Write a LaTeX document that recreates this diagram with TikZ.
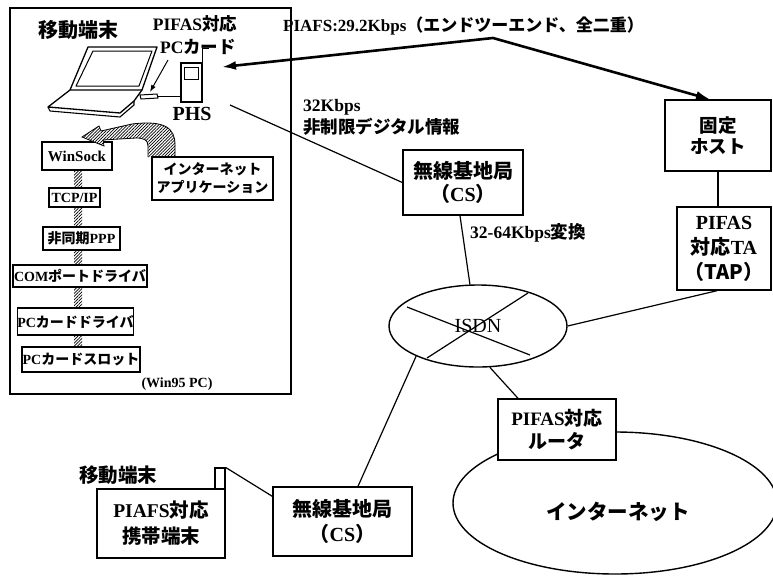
\documentclass[tikz,border=0pt]{standalone}
\usepackage{fontspec}
\setmainfont{Liberation Serif}
\newfontfamily\jpfont{Noto Sans CJK JP}
\usetikzlibrary{shapes.geometric,arrows.meta,patterns.meta}
\newcommand\J[1]{{\jpfont #1}}
\newcommand\sz[2]{\fontsize{#1}{#2}\selectfont}

\begin{document}
\begin{tikzpicture}[x=1pt,y=-1pt,
  box/.style={draw,line width=1.4pt,fill=white,inner sep=0pt,align=center,font=\bfseries},
  stackbox/.style={box,line width=1.3pt,font=\bfseries\sz{14}{16}},
  hatchfill/.style={pattern={Lines[angle=45,distance=2.2pt,line width=0.7pt]}},
  link/.style={line width=1.2pt},
  lbl/.style={inner sep=0pt,font=\bfseries},
  bigarrow/.style={line width=2.6pt,{Latex[length=14pt,width=9pt]}-{Latex[length=14pt,width=9pt]}}
]
\useasboundingbox (0,0) rectangle (773,576);
\fill[white] (0,0) rectangle (773,576);

% ---------- mobile terminal (notebook PC + PHS) ----------
\node[draw,line width=1.2pt,minimum width=281,minimum height=386,inner sep=0] (mt) at (150.5,201) {};
\node[lbl,font=\bfseries\sz{20}{22}] (mtlabel) at (78,30) {\J{移動端末}};
\node[lbl,font=\bfseries\sz{17.5}{20}] (pifas) at (195,24) {PIFAS\J{対応}};
\node[lbl,font=\bfseries\sz{17.5}{20}] (pclabel) at (198,47) {PC\J{カード}};
\node[lbl,font=\bfseries\sz{20}{22}] (phslabel) at (192,114) {PHS};

% notebook
\draw[line width=1.3pt,line join=round] (88,47) -- (157,47) -- (142,90) -- (70,90) -- cycle;
\draw[line width=1pt,line join=round] (93,51) -- (152,51) -- (139,86) -- (76,86) -- cycle;
\draw[line width=1.3pt,line join=round] (70,90) -- (48,107) -- (120,113) -- (134,101) -- (142,90);
\draw[line width=1.1pt,line join=round] (48,107) -- (50,111) -- (120,117) -- (134,105) -- (134,101);
% PC card in the slot
\draw[line width=1pt,fill=white] (140,95) -- (157,94) -- (158,98) -- (141,99) -- cycle;
\coordinate (card) at (150,92);
\coordinate (cardR) at (158,96);

% PHS handset
\node[draw,line width=1.2pt,minimum width=21,minimum height=39,inner sep=0] (phs) at (191.5,82.5) {};
\draw[line width=1pt] (184,67) rectangle (198,79);
\draw[line width=1.2pt] (phs.north east) -- ++(0,-14) -- ++(6,0);
\draw[line width=1pt] (cardR) -- (cardR -| phs.west);
\draw[line width=1pt,-{Latex[length=7pt,width=5pt]}] ([shift={(-30,13)}]pclabel.center) -- (card);

% protocol stack
\node[stackbox,font=\bfseries\sz{15}{16},minimum width=70,minimum height=28] (winsock) at (77,156) {WinSock};
\node[stackbox,font=\bfseries\sz{14}{16},minimum width=51,minimum height=19] (tcpip) at (74.5,197.5) {TCP/IP};
\node[stackbox,minimum width=77,minimum height=23] (ppp) at (81.5,238.5) {\J{非同期}PPP};
\node[stackbox,minimum width=134,minimum height=22] (com) at (80,276) {COM\J{ポートドライバ}};
\node[stackbox,minimum width=115,minimum height=27] (pcdrv) at (75.5,321.5) {PC\J{カードドライバ}};
\node[stackbox,minimum width=118,minimum height=25] (slot) at (81,359.5) {PC\J{カードスロット}};
\coordinate (sxl) at (74,0);
\coordinate (sxr) at (82,0);
\foreach \a/\b in {winsock/tcpip,tcpip/ppp,ppp/com,com/pcdrv,pcdrv/slot}
  \fill[hatchfill] (sxl |- \a.south) rectangle (sxr |- \b.north);
\node[lbl,font=\bfseries\sz{14}{16}] (win95) at (177,384) {(Win95 PC)};

% application -> WinSock hatched arrow
\filldraw[line width=0.8pt,fill=white] (148,157) -- (148,146) .. controls (148,140) and (144,138) .. (136,138)
  -- (103,140) -- (104,146) -- (82,137) -- (99,126) -- (101,131) -- (132,124)
  .. controls (165,120) and (175,128) .. (175,145) -- (175,157);
\fill[hatchfill] (148,157) -- (148,146) .. controls (148,140) and (144,138) .. (136,138)
  -- (103,140) -- (104,146) -- (82,137) -- (99,126) -- (101,131) -- (132,124)
  .. controls (165,120) and (175,128) .. (175,145) -- (175,157) -- cycle;
\node[stackbox,font=\bfseries\sz{14}{18},minimum width=121,minimum height=43] (app) at (212.5,178.5)
  {\J{インターネット}\\\J{アプリケーション}};

% ---------- network side ----------
\node[box,font=\bfseries\sz{20}{23},minimum width=120,minimum height=65] (cs1) at (463,182.5)
  {\J{無線基地局}\\\J{（}CS\J{）}};
\node[box,font=\bfseries\sz{18.5}{21},minimum width=106,minimum height=71] (host) at (718,135.5)
  {\J{固定}\\\J{ホスト}};
\node[box,font=\bfseries\sz{20}{25},minimum width=94,minimum height=83] (tap) at (724,248.5)
  {PIFAS\\\J{対応}TA\\\J{（TAP）}};
\node[draw,ellipse,line width=1.4pt,minimum width=178,minimum height=82,inner sep=0] (isdn) at (478,326) {};
\draw[link] ([shift={(-71,-19)}]isdn.center) -- ([shift={(52,29)}]isdn.center);
\draw[link] ([shift={(50,-33)}]isdn.center) -- ([shift={(-51,32)}]isdn.center);
\node[inner sep=0,font=\sz{20}{22}] (isdntext) at (isdn.center) {ISDN};

\node[draw,ellipse,line width=1.4pt,minimum width=324,minimum height=142,inner sep=0] (inet) at (615,503) {};
\node[lbl,font=\bfseries\sz{20.5}{22}] (inettext) at (618,512) {\J{インターネット}};
\node[box,font=\bfseries\sz{19}{23},minimum width=118,minimum height=61] (router) at (557,429.5)
  {PIFAS\J{対応}\\\J{ルータ}};
\node[box,font=\bfseries\sz{20}{25},minimum width=139,minimum height=69] (cs2) at (342.5,521.5)
  {\J{無線基地局}\\\J{（}CS\J{）}};
\node[box,font=\bfseries\sz{19.5}{26},minimum width=128,minimum height=69] (term) at (161,523.5)
  {PIAFS\J{対応}\\\J{携帯端末}};
\node[draw,line width=1.2pt,fill=white,minimum width=10,minimum height=21,inner sep=0] (flag) at (220,478.5) {};
\node[lbl,font=\bfseries\sz{19.5}{22}] (mt2) at (118,475) {\J{移動端末}};

% labels
\node[lbl,anchor=west,font=\bfseries\sz{17}{20}] (piafs) at (283,26) {PIAFS:29.2Kbps\J{（エンドツーエンド、全二重）}};
\node[lbl,anchor=west,font=\bfseries\sz{17.5}{20}] (rate1) at (303,107) {32Kbps};
\node[lbl,anchor=west,font=\bfseries\sz{17.5}{20}] (rate2) at (303,127) {\J{非制限デジタル情報}};
\node[lbl,anchor=west,font=\bfseries\sz{17.5}{20}] (conv) at (470,233) {32-64Kbps\J{変換}};

% connectors
\coordinate (pL) at (222,67);
\coordinate (pM) at (493,38);
\draw[bigarrow,line join=round] (pL) -- (pM) -- ([xshift=-8pt]host.north);
\coordinate (radio) at (230,105);
\draw[link] (radio) -- (cs1.west);
\draw[link] ([xshift=-3pt]cs1.south) -- (isdn.101);
\draw[link] (isdn.east) -- ([xshift=-7pt]tap.south);
\draw[link] (host.south) -- (host.south |- tap.north);
\draw[link] (isdn.206) -- ([xshift=15.5pt]cs2.north);
\draw[link] (isdn.286) -- ([xshift=-39pt]router.north);
\draw[link] (flag.north east) -- ([yshift=-10pt]cs2.north west);
\end{tikzpicture}
\end{document}
